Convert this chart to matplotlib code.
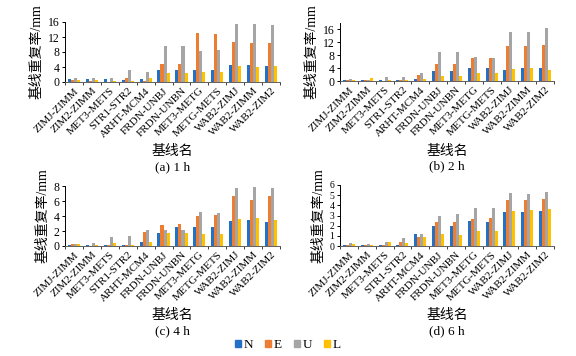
import numpy as np
import matplotlib
matplotlib.use('Agg')
import matplotlib.pyplot as plt
from matplotlib.patches import Patch

plt.rcParams['font.family'] = ['Liberation Serif', 'Noto Sans CJK SC']
plt.rcParams['axes.unicode_minus'] = False

baselines = ['ZIMJ-ZIMM', 'ZIM2-ZIMM', 'MET3-METS', 'STR1-STR2', 'ARHT-MCM4',
             'FRDN-UNBJ', 'FRDN-UNBN', 'MET3-METG', 'METG-METS', 'WAB2-ZIMJ',
             'WAB2-ZIMM', 'WAB2-ZIM2']
components = ['N', 'E', 'U', 'L']
colors = ['#2371C4', '#ED7D31', '#A5A5A5', '#FFC000']

# 1 h
n_1h = [0.7, 0.9, 0.7, 0.5, 0.9, 3.2, 3.1, 3.1, 3.1, 4.5, 4.5, 4.3]
e_1h = [0.5, 0.3, 0.1, 1.0, 0.4, 4.8, 4.9, 13.0, 12.7, 10.8, 10.5, 10.5]
u_1h = [1.0, 1.0, 1.2, 3.3, 2.6, 9.6, 9.6, 8.4, 8.6, 15.6, 15.5, 15.2]
l_1h = [0.5, 0.6, 0.4, 0.4, 1.0, 2.4, 2.4, 2.8, 2.7, 4.2, 4.1, 4.2]
# 2 h
n_2h = [0.3, 0.3, 0.3, 0.2, 0.6, 3.2, 3.0, 3.9, 3.9, 3.3, 4.1, 4.1]
e_2h = [0.3, 0.3, 0.1, 0.3, 1.9, 5.3, 5.4, 7.2, 7.1, 10.9, 10.9, 11.1]
u_2h = [0.5, 0.4, 1.1, 1.3, 2.6, 8.9, 8.9, 7.5, 7.0, 15.1, 15.3, 16.5]
l_2h = [0.3, 0.8, 0.3, 0.2, 0.7, 1.6, 1.6, 2.5, 2.5, 3.6, 4.1, 3.4]
# 4 h
n_4h = [0.2, 0.1, 0.2, 0.2, 0.5, 1.7, 2.5, 2.5, 2.5, 3.3, 3.5, 3.2]
e_4h = [0.3, 0.05, 0.2, 0.2, 1.9, 2.8, 2.9, 4.0, 4.2, 6.7, 6.2, 6.7]
u_4h = [0.3, 0.4, 1.2, 1.3, 2.1, 2.1, 2.1, 4.6, 4.4, 7.8, 7.9, 7.8]
l_4h = [0.3, 0.1, 0.4, 0.1, 0.5, 1.8, 1.8, 1.6, 1.6, 3.6, 3.7, 3.5]
# 6 h
n_6h = [0.1, 0.1, 0.1, 0.1, 1.2, 2.0, 2.0, 2.5, 2.4, 3.3, 3.3, 3.4]
e_6h = [0.1, 0.1, 0.1, 0.4, 0.9, 2.4, 2.4, 2.7, 2.8, 4.5, 4.5, 4.6]
u_6h = [0.3, 0.2, 0.4, 0.8, 1.2, 3.0, 3.1, 3.7, 3.7, 5.2, 5.1, 5.3]
l_6h = [0.2, 0.1, 0.4, 0.3, 0.9, 1.2, 1.1, 1.5, 1.5, 3.4, 3.5, 3.6]

W, H = 576, 356
fig = plt.figure(figsize=(W / 100, H / 100), dpi=100)

# axes box in pixels (left, right, top, bottom), y max, y ticks, tick size, data, caption
panels = [
    ((65, 280, 22, 82), 16, [0, 4, 8, 12, 16], 8.5, [n_1h, e_1h, u_1h, l_1h], '(a) 1 h'),
    ((340, 554, 23, 81), 18, [0, 4, 8, 12, 16], 8.5, [n_2h, e_2h, u_2h, l_2h], '(b) 2 h'),
    ((65, 280, 186, 246), 8, [0, 2, 4, 6, 8], 8.5, [n_4h, e_4h, u_4h, l_4h], '(c) 4 h'),
    ((340, 554, 185, 246), 6, [0, 1, 2, 3, 4, 5, 6], 7, [n_6h, e_6h, u_6h, l_6h], '(d) 6 h'),
]

x = np.arange(len(baselines))
bw = 0.17
for (l, r, t, b), ymax, yt, ysz, series, cap in panels:
    ax = fig.add_axes([l / W, 1 - b / H, (r - l) / W, (b - t) / H])
    for i, vals in enumerate(series):
        ax.bar(x + (i - 1.5) * bw, vals, bw, color=colors[i], zorder=2)
    ax.set_xlim(-0.5, len(baselines) - 0.5)
    ax.set_ylim(0, ymax)
    ax.set_yticks(yt)
    ax.tick_params(axis='y', labelsize=ysz, length=2.5, width=0.7, pad=1.5)
    ax.set_xticks(x)
    ax.set_xticklabels(baselines, rotation=45, ha='right', rotation_mode='anchor', fontsize=8)
    ax.tick_params(axis='x', length=0, pad=3)
    ax.set_xticks(np.arange(-0.5, len(baselines)), minor=True)
    ax.tick_params(axis='x', which='minor', length=2.5, width=0.7, color='#404040')
    for s in ['top', 'right']:
        ax.spines[s].set_visible(False)
    ax.spines['left'].set_linewidth(0.7)
    ax.spines['bottom'].set_linewidth(0.7)
    ax.spines['bottom'].set_color('#606060')
    ax.set_ylabel('基线重复率/mm', fontsize=10, labelpad=3)
    cx = (l + r) / 2 / W
    fig.text(cx, 1 - (b + 70) / H, '基线名', ha='center', va='center', fontsize=10)
    fig.text(cx, 1 - (b + 85) / H, cap, ha='center', va='center', fontsize=9.5)

handles = [Patch(color=c, label=n) for c, n in zip(colors, components)]
fig.legend(handles=handles, loc='center', bbox_to_anchor=(0.5, 1 - 345 / H), ncol=4,
           frameon=False, fontsize=9.5, handlelength=0.45, handleheight=0.45,
           handletextpad=0.2, columnspacing=0.9)

fig.savefig('out.png', dpi=100)
